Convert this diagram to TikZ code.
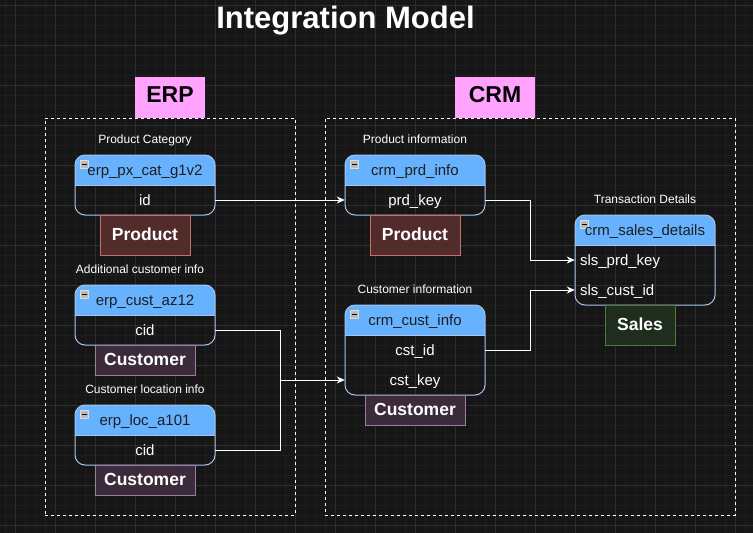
\documentclass[tikz,border=0pt]{standalone}
\usepackage{fontspec}
\setmainfont{Liberation Sans}
\usetikzlibrary{arrows.meta}
\definecolor{bgc}{HTML}{161616}
\definecolor{gridminor}{HTML}{1E1E1E}
\definecolor{gridmajor}{HTML}{2E2E2E}
\definecolor{hdrblue}{HTML}{66B2FF}
\definecolor{tblborder}{HTML}{A9C4EB}
\definecolor{hdrtext}{HTML}{1E1E1E}
\definecolor{pinklbl}{HTML}{FFA3FF}
\definecolor{prodfill}{HTML}{522B2B}
\definecolor{proddraw}{HTML}{C4716C}
\definecolor{custfill}{HTML}{3B2B3B}
\definecolor{custdraw}{HTML}{9A7FA0}
\definecolor{salesfill}{HTML}{1F2D1E}
\definecolor{salesdraw}{HTML}{527A38}
\definecolor{iconfill}{HTML}{BBBBBB}
\definecolor{icondraw}{HTML}{DDDDDD}
\newcommand\drawtable[3]{%
  \begin{scope}
    \clip[rounded corners=10pt] (#1,#2) rectangle ++(140,#3);
    \fill[hdrblue] (#1,#2) rectangle ++(140,30);
  \end{scope}
  \draw[tblborder, line width=1pt] (#1,#2+30) -- ++(140,0);
  \draw[tblborder, line width=1pt, rounded corners=10pt] (#1,#2) rectangle ++(140,#3);
  \draw[icondraw, fill=iconfill, line width=0.8pt] (#1+5,#2+5) rectangle ++(8,8);
  \draw[black, line width=1pt] (#1+6.5,#2+9) -- ++(5,0);
}
\begin{document}
\begin{tikzpicture}[x=1pt,y=-1pt,
  titletxt/.style={text=white, font=\fontsize{31}{36}\selectfont\bfseries, inner sep=0pt},
  syslabel/.style={fill=pinklbl, text=black, font=\fontsize{23}{26}\selectfont\bfseries, inner sep=0pt, minimum height=41pt, text height=9pt, text depth=0pt},
  container/.style={draw=white, dash pattern=on 3pt off 3pt, line width=1pt},
  captxt/.style={text=white, font=\fontsize{12}{14}\selectfont, inner sep=0pt, text height=8.6pt, text depth=0pt},
  tblhead/.style={text=hdrtext, font=\fontsize{15}{18}\selectfont, inner sep=0pt, minimum width=140pt, minimum height=30pt, text height=11.5pt, text depth=0pt},
  tblrow/.style={text=white, font=\fontsize{15}{18}\selectfont, inner sep=0pt, minimum width=140pt, minimum height=30pt, text height=11.5pt, text depth=0pt},
  tblrowl/.style={text=white, font=\fontsize{15}{18}\selectfont, inner xsep=5pt, inner ysep=0pt, text width=130pt, align=left, minimum height=30pt, text height=11.5pt, text depth=0pt},
  tagbox/.style={font=\fontsize{17.5}{20}\selectfont\bfseries, text=white, inner sep=0pt, line width=1pt, text height=10pt, text depth=0pt},
  prodtag/.style={tagbox, fill=prodfill, draw=proddraw, minimum width=90pt, minimum height=40pt},
  custtag/.style={tagbox, fill=custfill, draw=custdraw, minimum width=100pt, minimum height=30pt},
  salestag/.style={tagbox, fill=salesfill, draw=salesdraw, minimum width=70pt, minimum height=40pt},
  conn/.style={draw=white, line width=1pt},
  connarrow/.style={conn, -{Stealth[length=8pt, width=7pt, inset=2.5pt]}}
]
\useasboundingbox (0,0) rectangle (753,533);
\fill[bgc] (0,0) rectangle (753,533);
% grid
\foreach \x in {5,15,...,753} \draw[gridminor, line width=0.8pt] (\x,0) -- (\x,533);
\foreach \y in {5,15,...,533} \draw[gridminor, line width=0.8pt] (0,\y) -- (753,\y);
\foreach \x in {15,55,...,753} \draw[gridmajor, line width=0.9pt] (\x,0) -- (\x,533);
\foreach \y in {5,45,...,533} \draw[gridmajor, line width=0.9pt] (0,\y) -- (753,\y);

% title
\node[titletxt] (title) at (345.5,21) {Integration Model};

% containers
\node[container, minimum width=250pt, minimum height=397pt, inner sep=0pt] (erpbox) at (170,316.5) {};
\node[container, minimum width=410pt, minimum height=397pt, inner sep=0pt] (crmbox) at (530,316.5) {};
\node[syslabel, minimum width=70pt] (erplbl) at (170,97.5) {ERP};
\node[syslabel, minimum width=80pt] (crmlbl) at (495,97.5) {CRM};

% ---------- ERP tables ----------
\node[captxt] (capcat) at (145,139.5) {Product Category};
\drawtable{75}{155}{60}
\node[tblhead] (cathead) at (145,170) {erp\_px\_cat\_g1v2};
\node[tblrow] (catid) at (145,200) {id};
\node[prodtag] (catprod) at (145,235) {Product};

\node[captxt] (capcust) at (140,269) {Additional customer info};
\drawtable{75}{285}{60}
\node[tblhead] (custhead) at (145,300) {erp\_cust\_az12};
\node[tblrow] (custcid) at (145,330) {cid};
\node[custtag] (custtag1) at (145,360) {Customer};

\node[captxt] (caploc) at (145,389) {Customer location info};
\drawtable{75}{405}{60}
\node[tblhead] (lochead) at (145,420) {erp\_loc\_a101};
\node[tblrow] (loccid) at (145,450) {cid};
\node[custtag] (custtag2) at (145,480) {Customer};

% ---------- CRM tables ----------
\node[captxt] (capprd) at (415,139.5) {Product information};
\drawtable{345}{155}{60}
\node[tblhead] (prdhead) at (415,170) {crm\_prd\_info};
\node[tblrow] (prdkey) at (415,200) {prd\_key};
\node[prodtag] (prdprod) at (415,235) {Product};

\node[captxt] (capcst) at (415,289.5) {Customer information};
\drawtable{345}{305}{90}
\node[tblhead] (csthead) at (415,320) {crm\_cust\_info};
\node[tblrow] (cstid) at (415,350) {cst\_id};
\node[tblrow] (cstkey) at (415,380) {cst\_key};
\node[custtag] (custtag3) at (415,410) {Customer};

\node[captxt] (capsls) at (645,199.5) {Transaction Details};
\drawtable{575}{215}{90}
\node[tblhead] (slshead) at (645,230) {crm\_sales\_details};
\node[tblrowl] (slsprd) at (645,260) {sls\_prd\_key};
\node[tblrowl] (slscust) at (645,290) {sls\_cust\_id};
\node[salestag] (salestag1) at (640,325) {Sales};

% ---------- connectors ----------
\coordinate (jn) at (280,380);
\draw[connarrow] (catid.east) -- (prdkey.west);
\draw[conn] (custcid.east) -| (jn);
\draw[conn] (loccid.east) -| (jn);
\draw[connarrow] (jn) -- (cstkey.west);
\draw[connarrow] (prdkey.east) -- ++(45,0) |- (slsprd.west);
\draw[connarrow] (cstid.east) -- ++(45,0) |- (slscust.west);
\end{tikzpicture}
\end{document}
